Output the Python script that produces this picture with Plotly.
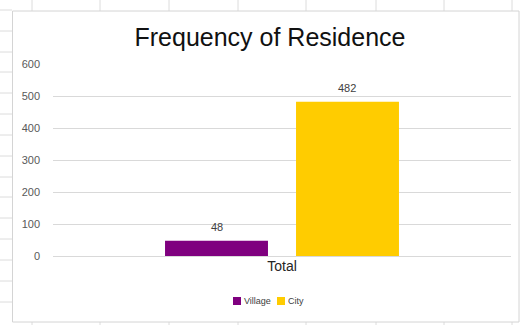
import plotly.graph_objects as go

# Residence counts
category = ["Total"]
series_names = ["Village", "City"]
village_values = [48]
city_values = [482]
y_ticks = [0, 100, 200, 300, 400, 500, 600]

colors = {"Village": "#7F007F", "City": "#FFCC00"}

W, H = 527, 325
L, R, T, B = 53, 16, 64, 69
PW, PH = W - L - R, H - T - B


def px(x):
    return (x - L) / PW


def py(y):
    return (H - B - y) / PH


fig = go.Figure()
for name, vals in zip(series_names, [village_values, city_values]):
    fig.add_trace(go.Bar(
        x=category, y=vals, name=name, showlegend=False,
        marker=dict(color=colors[name], line=dict(width=0)),
    ))

FONT = "Liberation Sans, Arial, sans-serif"

# value labels above each bar
offsets = [-0.5 * (1 - 0.428) / 2, 0.5 * (1 - 0.428) / 2]
for off, vals in zip(offsets, [village_values, city_values]):
    for i, v in enumerate(vals):
        fig.add_annotation(
            x=i + off, y=v, text=str(v), showarrow=False,
            yshift=14, font=dict(size=11, color="#404040", family=FONT),
        )

shapes = []

# compact legend: swatch + label
legend_items = [("Village", 233), ("City", 277)]
for name, x0 in legend_items:
    shapes.append(dict(type="rect", xref="paper", yref="paper",
                       x0=px(x0), x1=px(x0 + 8), y0=py(305), y1=py(297),
                       fillcolor=colors[name], line=dict(width=0)))
    fig.add_annotation(xref="paper", yref="paper", x=px(x0 + 9), y=py(301),
                       xanchor="left", yanchor="middle", showarrow=False,
                       text=name, font=dict(size=9, color="#404040", family=FONT))

# worksheet cell lines around the chart object
grid_col = "#dcdcdc"
for xc in [32, 100, 169, 238, 306, 376, 444, 512]:
    shapes.append(dict(type="line", xref="paper", yref="paper",
                       x0=px(xc), x1=px(xc), y0=py(0), y1=py(11),
                       line=dict(color=grid_col, width=1)))
    shapes.append(dict(type="line", xref="paper", yref="paper",
                       x0=px(xc), x1=px(xc), y0=py(322), y1=py(325),
                       line=dict(color=grid_col, width=1)))
for yc in [10, 31, 52, 72, 93, 114, 135, 156, 177, 197, 218, 239, 260, 281, 302]:
    shapes.append(dict(type="line", xref="paper", yref="paper",
                       x0=px(0), x1=px(12), y0=py(yc), y1=py(yc),
                       line=dict(color=grid_col, width=1)))
# chart border
shapes.append(dict(type="rect", xref="paper", yref="paper",
                   x0=px(12.5), x1=px(519), y0=py(322), y1=py(11),
                   line=dict(color="#d4d4d4", width=1)))

fig.update_layout(
    width=W, height=H,
    margin=dict(l=L, r=R, t=T, b=B),
    paper_bgcolor="white", plot_bgcolor="white",
    barmode="group", bargap=0.428, bargroupgap=0.214,
    title=dict(text="Frequency of Residence", x=270 / W,
               xanchor="center", y=1 - 37 / H, yanchor="middle",
               font=dict(size=25, color="#111111", family=FONT)),
    font=dict(family=FONT),
    xaxis=dict(showgrid=False, showline=False, ticks="",
               tickfont=dict(size=14, color="#262626")),
    yaxis=dict(range=[0, 600], tickvals=y_ticks, showline=False,
               gridcolor="#d9d9d9", gridwidth=1, zeroline=True,
               zerolinecolor="#d9d9d9", zerolinewidth=1, ticks="",
               ticklabelstandoff=12,
               tickfont=dict(size=11, color="#595959")),
    shapes=shapes,
    showlegend=False,
)

fig.write_html("out.html")
